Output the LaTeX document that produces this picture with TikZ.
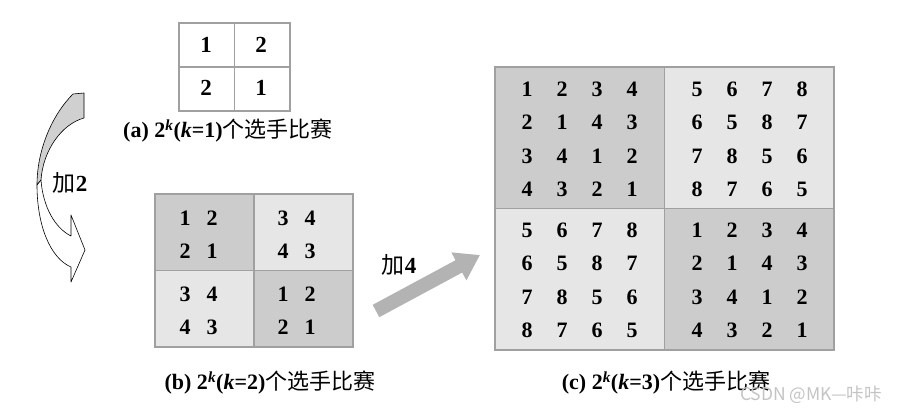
\documentclass[tikz,border=0pt]{standalone}
\usepackage{fontspec}
\setmainfont{Liberation Serif}
\newfontfamily\cjk{Noto Sans CJK SC}
\usetikzlibrary{
    arrows.meta,
    positioning,
}
\definecolor{gridline}{HTML}{A0A0A0}
\definecolor{darkcell}{HTML}{CCCCCC}
\definecolor{lightcell}{HTML}{E6E6E6}
\definecolor{arrowgray}{HTML}{B3B3B3}
\definecolor{backgray}{HTML}{D0D0D0}
\definecolor{markgray}{HTML}{C4C4C4}
\newcommand{\caplabel}[2]{\textbf{(#1) 2\textsuperscript{\textit{k}}(\textit{k}=#2)}{\cjk 个选手比赛}}

\begin{document}
\begin{tikzpicture}[x=1pt, y=-1pt,
        block/.style={rectangle, inner sep=0pt, outer sep=0pt},
        gridpen/.style={draw=gridline, line width=1.3pt},
        num/.style={inner sep=0pt, font=\fontsize{22}{24}\selectfont\bfseries},
        bignum/.style={num, font=\fontsize{23}{25}\selectfont\bfseries},
        caption/.style={inner sep=0pt, font=\fontsize{22}{25}\selectfont},
        steplabel/.style={inner sep=0pt, font=\fontsize{23}{26}\selectfont},
        curvepen/.style={draw=black, line width=0.6pt, line join=round},
    ]
    \path[use as bounding box, fill=white] (0,0) rectangle (902,412);

    % the three tables
    \node[block, minimum width=111pt, minimum height=88pt] (tabA) at (234.5,67) {};
    \node[block, minimum width=198pt, minimum height=153pt] (tabB) at (254,270.5) {};
    \node[block, minimum width=339pt, minimum height=283pt] (tabC) at (664.5,208.5) {};

    \foreach \t in {tabB,tabC} {
        \fill[darkcell] (\t.north west) rectangle (\t.center);
        \fill[darkcell] (\t.center) rectangle (\t.south east);
        \fill[lightcell] (\t.north) rectangle (\t.east);
        \fill[lightcell] (\t.west) rectangle (\t.south);
    }
    \foreach \t in {tabA,tabB,tabC} {
        \draw[gridpen] (\t.north west) rectangle (\t.south east);
        \draw[gridpen] (\t.north) -- (\t.south) (\t.west) -- (\t.east);
    }

    % entries
    \foreach \rowvals [count=\r] in {{1,2},{2,1}} {
        \foreach \v [count=\c] in \rowvals {
            \node[bignum] (a-\r-\c) at ({206+55*(\c-1)}, {45+43*(\r-1)}) {\v};
        }
    }
    \foreach \rowvals [count=\r] in {{1,2,3,4},{2,1,4,3},{3,4,1,2},{4,3,2,1}} {
        \foreach \v [count=\c] in \rowvals {
            \node[num] (b-\r-\c) at ({185+27*(\c-1)+44*(\c>2)}, {218+33.5*(\r-1)+9*(\r>2)}) {\v};
        }
    }
    \foreach \rowvals [count=\r] in {{1,2,3,4,5,6,7,8},{2,1,4,3,6,5,8,7},
            {3,4,1,2,7,8,5,6},{4,3,2,1,8,7,6,5},{5,6,7,8,1,2,3,4},
            {6,5,8,7,2,1,4,3},{7,8,5,6,3,4,1,2},{8,7,6,5,4,3,2,1}} {
        \foreach \v [count=\c] in \rowvals {
            \node[num] (c-\r-\c) at ({527+35*(\c-1)+30*(\c>4)}, {89+33.5*(\r-1)+7*(\r>4)}) {\v};
        }
    }

    % captions
    \node[caption] (capA) at (228,131) {\caplabel{a}{1}};
    \node[caption] (capB) at (270,383) {\caplabel{b}{2}};
    \node[caption] (capC) at (666,383) {\caplabel{c}{3}};

    % curved arrow, add 2
    \filldraw[curvepen, fill=backgray] (73,94) -- (84,93) -- (84,118)
        .. controls (62,124) and (43,150) .. (41,180) -- (37,185)
        .. controls (37,150) and (52,115) .. (73,94) -- cycle;
    \filldraw[curvepen, fill=white] (41,180)
        .. controls (43,207) and (55,228) .. (71,236) -- (71,215) -- (85,250)
        -- (71,282) -- (71,267) .. controls (50,258) and (37,225) .. (37,185) -- cycle;
    \node[steplabel] (add2) at (70,183) {{\cjk 加}\textbf{2}};

    % straight arrow, add 4
    \coordinate (add4start) at (376,311);
    \coordinate (add4end) at (480,255);
    \draw[arrowgray, line width=14pt, -{Triangle[length=24pt, width=30pt]}] (add4start) -- (add4end);
    \node[steplabel] (add4) at (399,265) {{\cjk 加}\textbf{4}};

    \node[inner sep=0pt, text=markgray, font=\cjk\fontsize{17.5}{19}\selectfont] (mark) at (811,395) {CSDN @MK—咔咔};
\end{tikzpicture}
\end{document}
